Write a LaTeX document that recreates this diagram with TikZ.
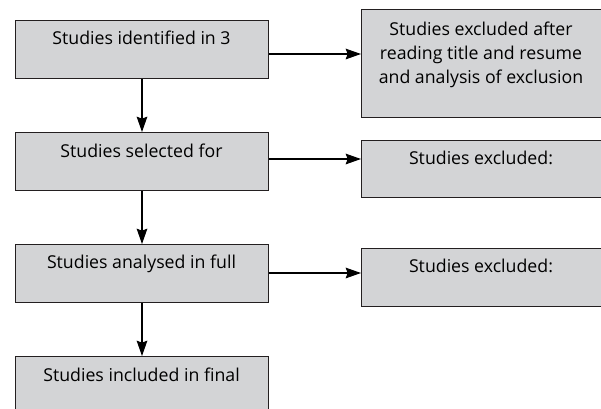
\documentclass[tikz,border=0pt]{standalone}
\usepackage{fontspec}
\setmainfont{Open Sans}
\usetikzlibrary{arrows.meta}
\definecolor{boxfill}{HTML}{D3D4D6}
\definecolor{boxline}{HTML}{231F20}
\begin{document}
\begin{tikzpicture}[x=0.75pt,y=-0.75pt,
  box/.style={draw=boxline, line width=0.9pt, fill=boxfill, rectangle, inner sep=0pt, anchor=north west},
  txt/.style={anchor=base, inner sep=0pt, align=center, font=\fontsize{13.3}{18}\selectfont, text=black},
  arr/.style={draw=black, line width=0.8pt, -{Stealth[length=11.5pt,width=8pt,inset=1.5pt]}}]
\useasboundingbox (0,0) rectangle (601,408);
\clip (0,0) rectangle (601,408);
% left column
\node[box, minimum width={253*0.75pt}, minimum height={58*0.75pt}] (b1) at (15,20) {};
\node[box, minimum width={253*0.75pt}, minimum height={58*0.75pt}] (b2) at (15,132) {};
\node[box, minimum width={253*0.75pt}, minimum height={58*0.75pt}] (b3) at (15,244) {};
\node[box, minimum width={253*0.75pt}, minimum height={58*0.75pt}] (b4) at (15,356) {};
% right column
\node[box, minimum width={245*0.75pt}, minimum height={108*0.75pt}] (r1) at (361,9) {};
\node[box, minimum width={245*0.75pt}, minimum height={57*0.75pt}] (r2) at (361,140) {};
\node[box, minimum width={245*0.75pt}, minimum height={58*0.75pt}] (r3) at (361,248) {};
% texts
\node[txt] (t1) at (141.5,44) {Studies identified in 3};
\node[txt] (t2) at (141.5,157) {Studies selected for};
\node[txt] (t3) at (141.5,268) {Studies analysed in full};
\node[txt] (t4) at (141.5,381) {Studies included in final};
\node[txt] (s1) at (481,83) {Studies excluded after\\reading title and resume\\and analysis of exclusion};
\node[txt] (s2) at (481,164) {Studies excluded:};
\node[txt] (s3) at (481,272) {Studies excluded:};
% connectors
\draw[arr] (b1.south -| 142,0) -- (b2.north -| 142,0);
\draw[arr] (b2.south -| 142,0) -- (b3.north -| 142,0);
\draw[arr] (b3.south -| 142,0) -- (b4.north -| 142,0);
\draw[arr] (b1.east |- 0,54) -- (r1.west |- 0,54);
\draw[arr] (b2.east |- 0,159) -- (r2.west |- 0,159);
\draw[arr] (b3.east |- 0,273) -- (r3.west |- 0,273);
\end{tikzpicture}
\end{document}
